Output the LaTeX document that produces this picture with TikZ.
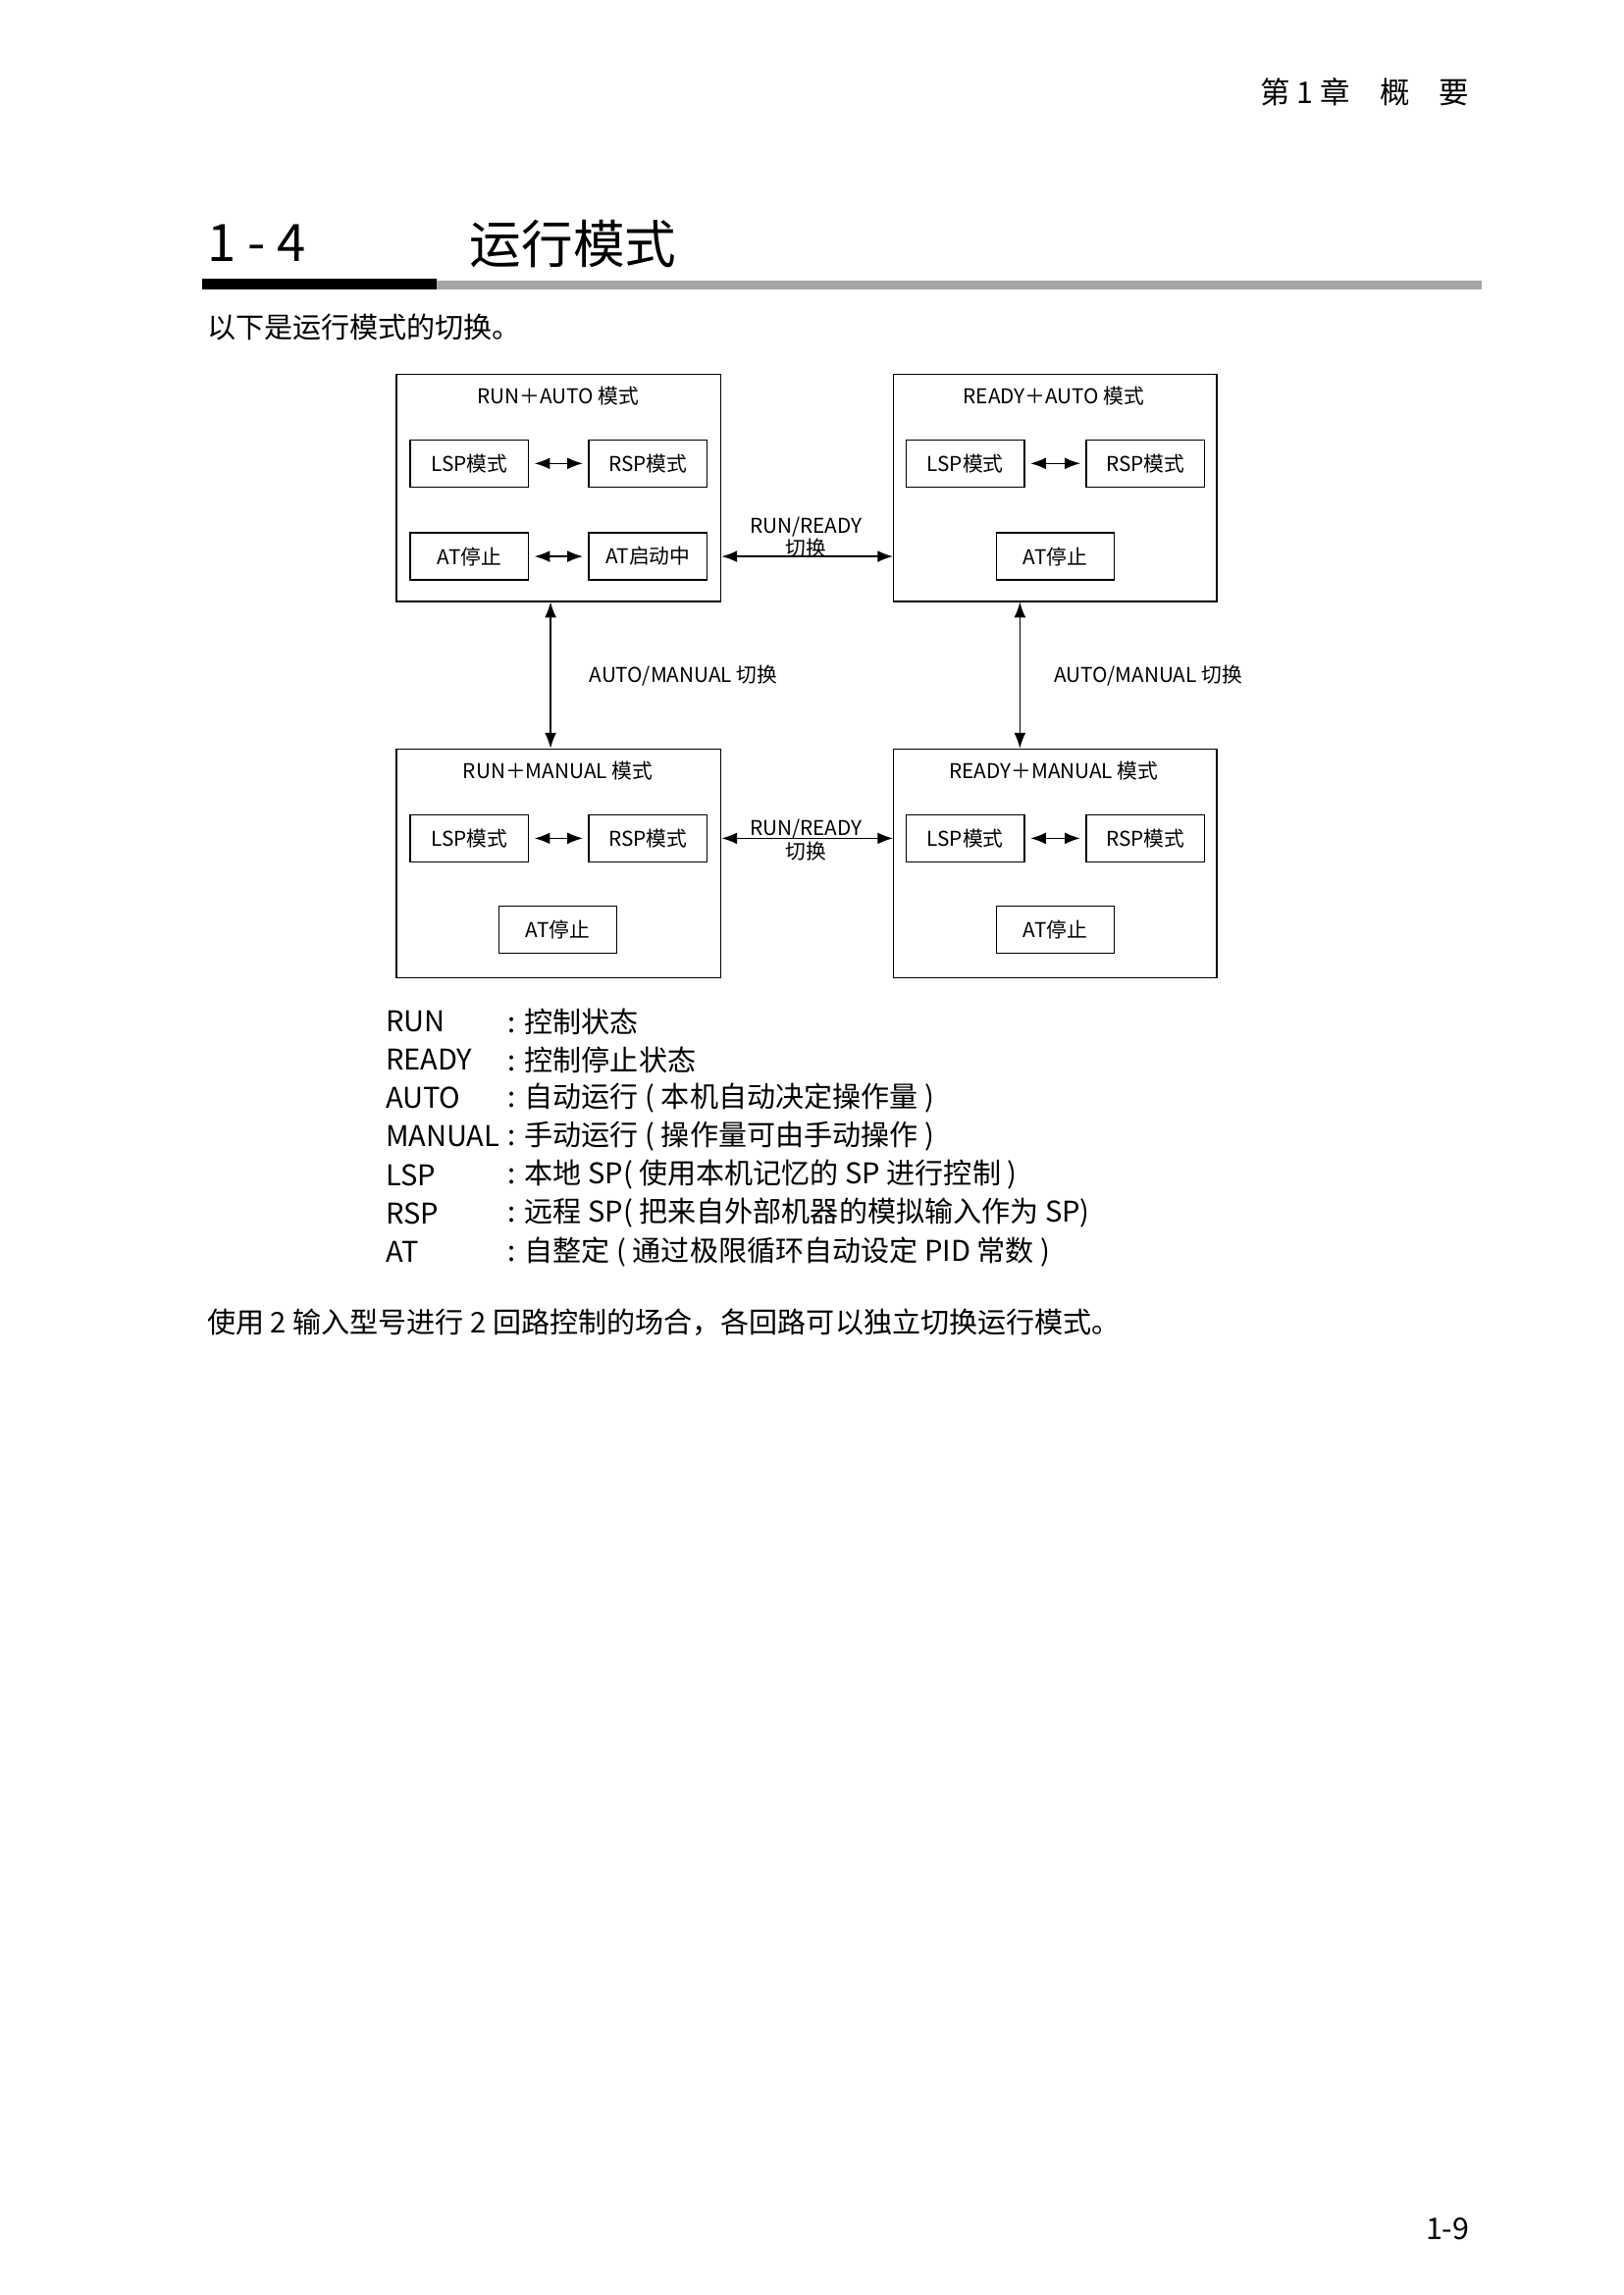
\documentclass[tikz,border=0pt]{standalone}
\usepackage{fontspec}
\setmainfont{Noto Sans CJK SC}
\usetikzlibrary{arrows.meta,positioning}

\begin{document}
\begin{tikzpicture}[x=0.01909cm,y=-0.01909cm,
	outer/.style={draw,line width=0.5pt,anchor=north west,inner sep=0pt},
	modebox/.style={draw,line width=0.5pt,minimum width=80*0.01909cm,minimum height=32*0.01909cm,font=\fontsize{7.5}{9}\selectfont,inner sep=0pt},
	lbl/.style={font=\fontsize{7.5}{8.5}\selectfont,align=center,inner sep=0pt},
	legend/.style={font=\fontsize{10.5}{12}\selectfont,anchor=west,inner sep=0pt},
	both/.style={{Latex[length=2mm,width=1.5mm]}-{Latex[length=2mm,width=1.5mm]},line width=0.5pt}]

\useasboundingbox (0,0) rectangle (1100,1555);

% header and title
\node[anchor=east,font=\fontsize{11}{12}\selectfont] (hdr) at (1002,62) {第 1 章\quad 概\quad 要};
\node[anchor=west,font=\fontsize{19}{20}\selectfont,inner sep=0pt] (num) at (140,165) {1 - 4};
\node[anchor=west,font=\fontsize{19}{20}\selectfont,inner sep=0pt] (ttl) at (318,165) {运行模式};
\fill[black] (137,189) rectangle (296,196);
\fill[gray!70] (296,190) rectangle (1004,196);
\node[legend] (intro) at (140,222) {以下是运行模式的切换。};

% outer boxes
\node[outer,minimum width=220*0.01909cm,minimum height=154*0.01909cm] (ra) at (268,253) {};
\node[outer,minimum width=219*0.01909cm,minimum height=154*0.01909cm] (da) at (605,253) {};
\node[outer,minimum width=220*0.01909cm,minimum height=155*0.01909cm] (rm) at (268,507) {};
\node[outer,minimum width=219*0.01909cm,minimum height=155*0.01909cm] (dm) at (605,507) {};

\node[lbl] (raT) at (378,268) {RUN＋AUTO 模式};
\node[lbl] (daT) at (714,268) {READY＋AUTO 模式};
\node[lbl] (rmT) at (378,522) {RUN＋MANUAL 模式};
\node[lbl] (dmT) at (714,522) {READY＋MANUAL 模式};

% inner boxes
\node[modebox] (raL) at (318,314) {LSP模式};
\node[modebox] (raR) at (439,314) {RSP模式};
\node[modebox] (raS) at (318,377) {AT停止};
\node[modebox] (raA) at (439,377) {AT启动中};
\node[modebox] (daL) at (654,314) {LSP模式};
\node[modebox] (daR) at (776,314) {RSP模式};
\node[modebox] (daS) at (715,377) {AT停止};
\node[modebox] (rmL) at (318,568) {LSP模式};
\node[modebox] (rmR) at (439,568) {RSP模式};
\node[modebox] (rmS) at (378,630) {AT停止};
\node[modebox] (dmL) at (654,568) {LSP模式};
\node[modebox] (dmR) at (776,568) {RSP模式};
\node[modebox] (dmS) at (715,630) {AT停止};

\draw[both,shorten <=2pt,shorten >=2pt] (raL) -- (raR);
\draw[both,shorten <=2pt,shorten >=2pt] (raS) -- (raA);
\draw[both,shorten <=2pt,shorten >=2pt] (daL) -- (daR);
\draw[both,shorten <=2pt,shorten >=2pt] (rmL) -- (rmR);
\draw[both,shorten <=2pt,shorten >=2pt] (dmL) -- (dmR);

% switching between outer boxes
\coordinate (v1) at (373,0);
\coordinate (v2) at (691,0);
\draw[both] (ra.east |- raA) -- (da.west |- raA);
\draw[both] (rm.east |- rmR) -- (dm.west |- rmR);
\draw[both] (ra.south -| v1) -- (rm.north -| v1);
\draw[both] (da.south -| v2) -- (dm.north -| v2);
\node[lbl] (sw1) at (546,364) {RUN/READY\\切换};
\node[lbl] (sw2) at (546,569) {RUN/READY\\切换};
\node[lbl,anchor=west] (am1) at (399,458) {AUTO/MANUAL 切换};
\node[lbl,anchor=west] (am2) at (714,458) {AUTO/MANUAL 切换};

% legend
\foreach \k/\v [count=\i from 0] in {RUN/控制状态,READY/控制停止状态,AUTO/{自动运行 ( 本机自动决定操作量 )},MANUAL/{手动运行 ( 操作量可由手动操作 )},LSP/{本地 SP( 使用本机记忆的 SP 进行控制 )},RSP/{远程 SP( 把来自外部机器的模拟输入作为 SP)},AT/{自整定 ( 通过极限循环自动设定 PID 常数 )}}{
	\node[legend] (k\i) at (261,692+26*\i) {\k};
	\node[legend] (v\i) at (344,692+26*\i) {: \v};
}
\node[legend] (note) at (140,896) {使用 2 输入型号进行 2 回路控制的场合，各回路可以独立切换运行模式。};
\node[anchor=east,font=\fontsize{11}{12}\selectfont] (pg) at (1002,1510) {1-9};

\end{tikzpicture}
\end{document}
